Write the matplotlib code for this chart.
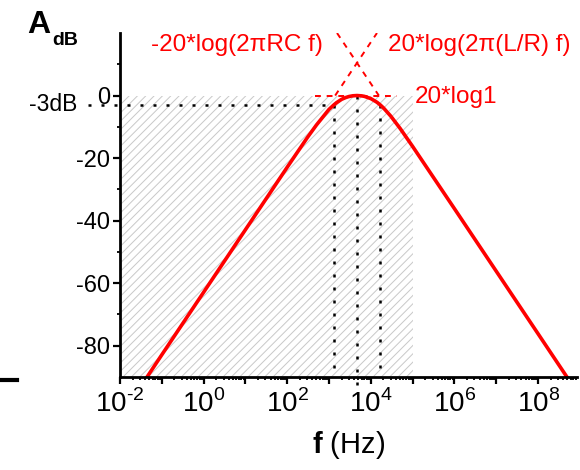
import matplotlib
matplotlib.use('Agg')
import matplotlib.pyplot as plt
from matplotlib.ticker import LogLocator, FuncFormatter, NullFormatter
from matplotlib.lines import Line2D
import numpy as np

plt.rcParams['font.family'] = ['Liberation Sans', 'DejaVu Sans']
plt.rcParams['mathtext.fontset'] = 'custom'
plt.rcParams['mathtext.rm'] = 'Liberation Sans'
plt.rcParams['mathtext.bf'] = 'Liberation Sans:bold'
plt.rcParams['axes.unicode_minus'] = False
plt.rcParams['hatch.linewidth'] = 0.7

# response curve
freq = [0.04, 0.1, 1, 10, 100, 300, 500, 1000, 1300, 1500, 2000, 2500, 3000, 3700,
        4660, 6000, 7000, 10000, 14000, 16800, 20000, 30000, 50000, 1e5, 1e6, 1e7, 1e8, 5e8]
gain_db = [-90.9, -82.9, -62.9, -42.9, -22.9, -13.5, -9.4, -4.4, -3.0, -2.3, -1.2, -0.64, -0.31, -0.08,
           0.0, -0.10, -0.26, -0.98, -2.15, -3.0, -3.95, -6.6, -10.5, -16.3, -36.2, -56.2, -76.2, -90.2]

# asymptotes
lo_asym_f = [1400, 14000]
lo_asym_db = [0, 20]
hi_asym_f = [1550, 15500]
hi_asym_db = [20, 0]
unity_f = [470, 42000]
unity_db = [0, 0]

# -3 dB markers
f_cut_lo = 1290
f_peak = 4660
f_cut_hi = 16800
band_f = [1e-2, 1e5]

fig = plt.figure(figsize=(5.8, 4.7), dpi=100)
ax = fig.add_axes([120/580, 1 - 377/470, (577 - 120)/580, (377 - 33)/470])

ax.fill_between(band_f, -90, 0, facecolor='none', edgecolor='#c8c8c8',
                hatch='////', linewidth=0, zorder=0)

dot = (0, (1.2, 4.0))
ax.plot([10**-2.77, f_cut_lo], [-3, -3], color='k', lw=1.8, ls=dot, clip_on=False)
ax.plot([f_cut_lo, f_cut_lo], [-3, -90], color='k', lw=1.8, ls=dot)
ax.plot([f_cut_hi, f_cut_hi], [-3, -90], color='k', lw=1.8, ls=dot)
ax.plot([f_peak, f_peak], [0, -94], color='k', lw=1.8, ls=dot, clip_on=False)

dash = (0, (3, 3))
ax.plot(lo_asym_f, lo_asym_db, color='red', lw=1.4, ls=dash)
ax.plot(hi_asym_f, hi_asym_db, color='red', lw=1.4, ls=dash)
ax.plot(unity_f, unity_db, color='red', lw=1.4, ls=dash)

ax.plot(freq, gain_db, color='red', lw=2.6)

ax.set_xscale('log')
ax.set_xlim(1e-2, 10**8.93)
ax.set_ylim(-90, 20)

ax.xaxis.set_major_locator(LogLocator(base=10, numticks=15))
ax.xaxis.set_minor_locator(LogLocator(base=10, subs=np.arange(2, 10), numticks=15))
def xfmt(v, p):
    e = int(round(np.log10(v)))
    return r'$10^{\text{%d}}$' % e if e % 2 == 0 else ''
ax.xaxis.set_major_formatter(FuncFormatter(xfmt))
ax.xaxis.set_minor_formatter(NullFormatter())

ax.set_yticks([-80, -60, -40, -20, 0])
ax.set_yticks([-70, -50, -30, -10, 10], minor=True)
ax.yaxis.set_major_formatter(FuncFormatter(lambda v, p: '%d' % v))

for s in ['top', 'right']:
    ax.spines[s].set_visible(False)
for s in ['left', 'bottom']:
    ax.spines[s].set_linewidth(2)

ax.tick_params(which='major', direction='out', length=5, width=1.6)
ax.tick_params(which='minor', direction='out', length=2.5, width=1.3)
ax.tick_params(axis='y', labelsize=17, pad=2)
ax.tick_params(axis='x', labelsize=20, pad=4)

ax.text(10**2.86, 16.3, '-20*log(2πRC f)', color='red', fontsize=17.5, ha='right', va='center')
ax.text(10**4.41, 16.3, '20*log(2π(L/R) f)', color='red', fontsize=17.5, ha='left', va='center')
ax.text(10**5.06, -0.6, '20*log1', color='red', fontsize=17.5, ha='left', va='center')
ax.text(10**-3.03, -2.9, '-3dB', color='k', fontsize=16.5, ha='right', va='center', clip_on=False)

ax.set_xlabel(r'$\mathbf{f}$ (Hz)', fontsize=21, labelpad=8)

fig.text(27/580, 1 - 33/470, 'A', fontsize=23, fontweight='bold', ha='left', va='baseline')
fig.text(52/580, 1 - 45/470, 'dB', fontsize=14, fontweight='bold', ha='left', va='baseline')

# stray bit of axis at the far left
fig.add_artist(Line2D([0, 17/580], [1 - 380/470, 1 - 380/470], color='k', lw=3))

fig.savefig('out.png', dpi=100)
